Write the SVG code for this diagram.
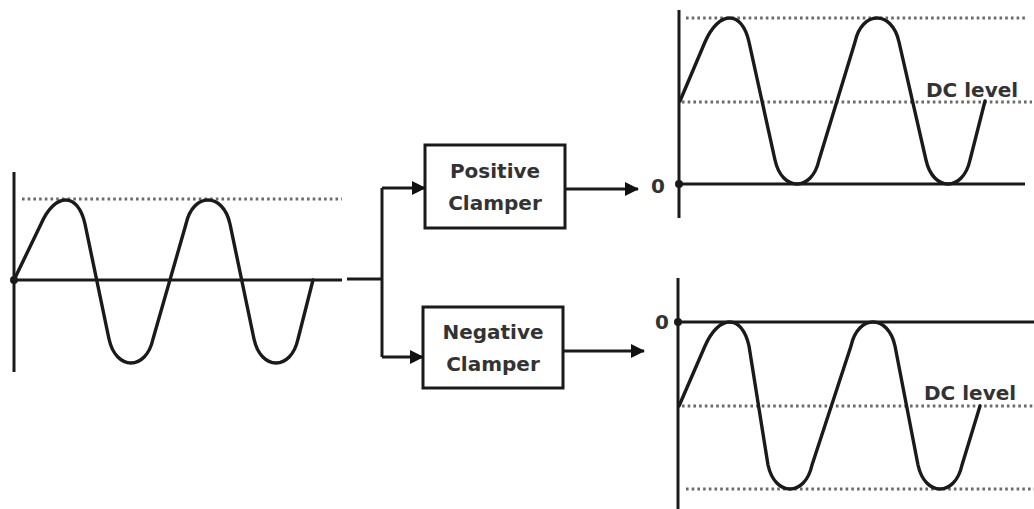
<svg xmlns="http://www.w3.org/2000/svg" width="1034" height="509" viewBox="0 0 1034 509">
<defs>
<marker id="arr" markerWidth="16" markerHeight="16" refX="13" refY="7" orient="auto" markerUnits="userSpaceOnUse">
<path d="M0,0 L14,7 L0,14 Z" fill="#111"/>
</marker>
</defs>
<style>
.ax{stroke:#1a1a1a;stroke-width:3;fill:none}
.wave{stroke:#1a1a1a;stroke-width:3.4;fill:none;stroke-linejoin:round;stroke-linecap:round}
.dot{stroke:#6a6a6a;stroke-width:3;fill:none;stroke-dasharray:2.6 3.1}
.box{fill:#fff;stroke:#1a1a1a;stroke-width:3}
.conn{stroke:#1a1a1a;stroke-width:3;fill:none}
.t{font-family:"DejaVu Sans",Verdana,sans-serif;font-weight:bold;font-size:20px;fill:#333}
</style>
<rect width="1034" height="509" fill="#fff"/>

<g id="input-wave">
<line class="dot" x1="22" y1="199" x2="342" y2="199"/>
<line class="ax" x1="14" y1="172" x2="14" y2="372"/>
<line class="ax" x1="14" y1="280" x2="342" y2="280"/>
<circle cx="14" cy="280" r="4" fill="#1a1a1a"/>
<path class="wave" d="M14,280 L41,224 C55,192 78,192 85,224 L109,339 C116,371 146,371 153,339 L186,224 C193,192 223,192 230,224 L254,339 C261,371 291,371 298,339 L313,280"/>
</g>

<g id="positive-clamper">
<rect class="box" x="425" y="145" width="140" height="83"/>
<text class="t" x="495" y="178" text-anchor="middle">Positive</text>
<text class="t" x="495" y="210" text-anchor="middle">Clamper</text>
</g>

<g id="negative-clamper">
<rect class="box" x="423" y="307" width="140" height="81"/>
<text class="t" x="493" y="339" text-anchor="middle">Negative</text>
<text class="t" x="493" y="371" text-anchor="middle">Clamper</text>
</g>

<g id="positive-output">
<line class="dot" x1="686" y1="18" x2="1025" y2="18"/>
<line class="dot" x1="682" y1="102" x2="1032" y2="102"/>
<line class="ax" x1="679" y1="10" x2="679" y2="218"/>
<line class="ax" x1="679" y1="184" x2="1025" y2="184"/>
<circle cx="679" cy="184" r="4" fill="#1a1a1a"/>
<path class="wave" d="M680,101 L705,42 C719,10 742,10 749,42 L775,160 C782,192 812,192 819,160 L855,42 C862,10 892,10 899,42 L926,160 C933,192 963,192 970,160 L985,101"/>
<text class="t" x="658" y="193" text-anchor="middle">0</text>
<text class="t" x="926" y="97">DC level</text>
</g>

<g id="negative-output">
<line class="dot" x1="682" y1="406" x2="1034" y2="406"/>
<line class="dot" x1="686" y1="489" x2="1034" y2="489"/>
<line class="ax" x1="678" y1="278" x2="678" y2="509"/>
<line class="ax" x1="678" y1="322" x2="1034" y2="322"/>
<circle cx="678" cy="322" r="4" fill="#1a1a1a"/>
<path class="wave" d="M679,406 L705,346 C719,314 742,314 749,346 L768,465 C775,497 805,497 812,465 L851,346 C858,314 888,314 895,346 L918,465 C925,497 955,497 962,465 L980,406"/>
<text class="t" x="662" y="329" text-anchor="middle">0</text>
<text class="t" x="924" y="400">DC level</text>
</g>

<g id="connectors">
<path class="conn" d="M347,279 L382,279"/>
<path class="conn" d="M382,188 L382,357"/>
<path class="conn" d="M382,188 L425,188" marker-end="url(#arr)"/>
<path class="conn" d="M382,357 L423,357" marker-end="url(#arr)"/>
<path class="conn" d="M565,189 L638,189" marker-end="url(#arr)"/>
<path class="conn" d="M563,351 L644,351" marker-end="url(#arr)"/>
</g>
</svg>
